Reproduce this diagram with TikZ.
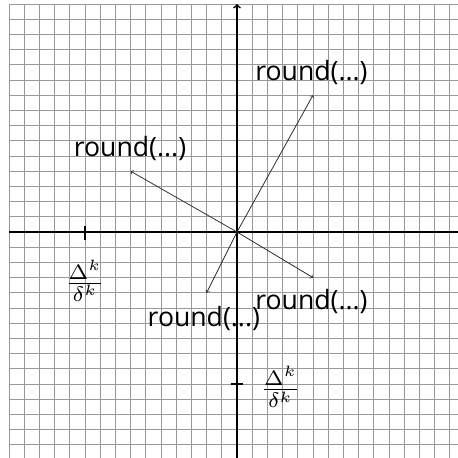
\documentclass[tikz,border=0pt]{standalone}
\usepackage{fontspec}
\setmainfont{Open Sans}
\begin{document}
\begin{tikzpicture}[
  gridline/.style={gray!80, line width=0.65pt},
  axisline/.style={line width=1.6pt, ->},
  tickmark/.style={line width=1.6pt},
  vec/.style={->, line width=0.7pt, black!85},
  vlabel/.style={font=\Huge, inner sep=0pt},
  mlabel/.style={font=\normalsize, scale=2.8, inner sep=0pt}
]
\useasboundingbox (-7.796,-7.434) rectangle (7.27,7.632);
\clip (-7.796,-7.434) rectangle (7.27,7.632);
\draw[gridline] (-7.5,-7.5) grid[step=0.5] (7.5,7.5);
\coordinate (O) at (0,0);
\coordinate (xl) at (-7.5,0);
\coordinate (xr) at (7.5,0);
\coordinate (yb) at (0,-7.5);
\coordinate (yt) at (0,7.5);
\draw[axisline] (xl) -- (xr);
\draw[axisline] (yb) -- (yt);
\coordinate (tx) at (-5,0);
\coordinate (ty) at (0,-5);
\draw[tickmark] ([yshift=0.2cm]tx) -- ([yshift=-0.25cm]tx);
\draw[tickmark] ([xshift=-0.2cm]ty) -- ([xshift=0.2cm]ty);
\node[mlabel] (lx) at (-5,-1.61) {$\frac{\Delta^k}{\delta^k}$};
\node[mlabel] (ly) at (1.43,-5.1) {$\frac{\Delta^k}{\delta^k}$};
\coordinate (a) at (2.5,4.5);
\coordinate (b) at (-3.5,2);
\coordinate (c) at (2.5,-1.5);
\coordinate (d) at (-1,-2);
\draw[vec] (O) -- (a);
\draw[vec] (O) -- (b);
\draw[vec] (O) -- (c);
\draw[vec] (O) -- (d);
\node[vlabel] (la) at (2.45,5.26) {round(...)};
\node[vlabel] (lb) at (-3.52,2.76) {round(...)};
\node[vlabel] (lc) at (2.45,-2.27) {round(...)};
\node[vlabel] (ld) at (-1.09,-2.86) {round(...)};
\end{tikzpicture}
\end{document}
